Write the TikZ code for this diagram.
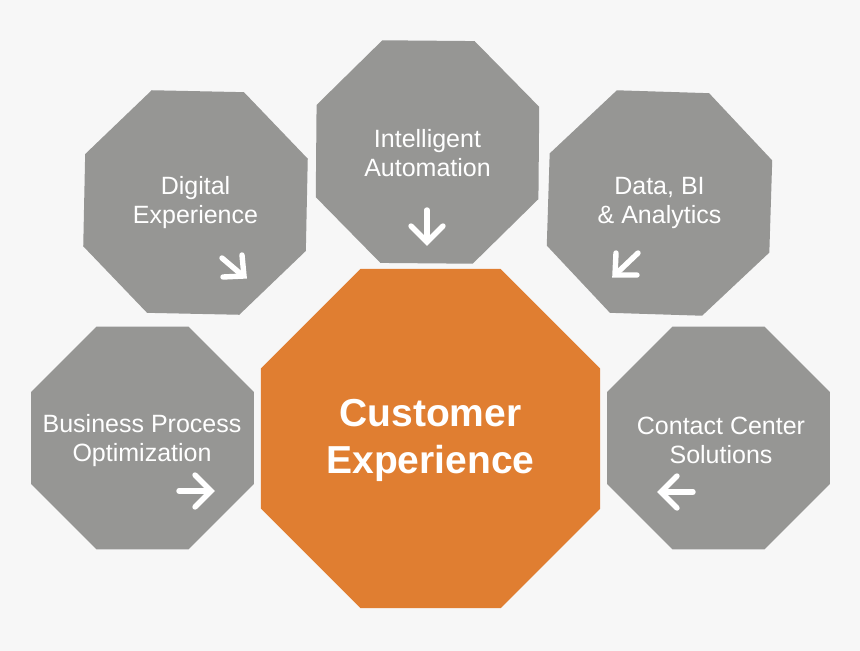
\documentclass[tikz,border=0pt]{standalone}
\usepackage{fontspec}
\setmainfont{Liberation Sans}
\usetikzlibrary{shapes.geometric}
\definecolor{bg}{RGB}{247,247,247}
\definecolor{octgray}{RGB}{150,150,148}
\definecolor{octorange}{RGB}{224,126,49}
\tikzset{
  oct/.style={regular polygon, regular polygon sides=8, fill=octgray, draw=none,
    inner sep=0pt, outer sep=0pt, minimum size=241pt},
  bigoct/.style={oct, fill=octorange, minimum size=367pt},
  octtext/.style={text=white, align=center, inner sep=0pt,
    font=\fontsize{25}{29}\selectfont},
  bigtext/.style={octtext, font=\fontsize{39}{47}\selectfont\bfseries},
  wharrow/.style={draw=white, line width=5.4pt, line cap=round, line join=miter}
}
\begin{document}
\begin{tikzpicture}[x=1pt,y=-1pt]
\fill[bg] (0,0) rectangle (860,651);
\useasboundingbox (0,0) rectangle (860,651);
% octagons
\node[oct, shape border rotate=-1.2] (dig) at (195.5,202.5) {};
\node[oct, shape border rotate=-0.5] (ia) at (427.5,152) {};
\node[oct, shape border rotate=-1.8] (data) at (659.5,203) {};
\node[oct] (bpo) at (142.5,438) {};
\node[oct] (ccs) at (718.5,438) {};
\node[bigoct] (cx) at (430.5,438.5) {};
% texts
\node[octtext] (digt) at (195.5,203) {Digital\\Experience};
\node[octtext] (iat) at (427.5,153.5) {Intelligent\\Automation};
\node[octtext] (datat) at (659.5,203) {Data, BI\\\& Analytics};
\node[octtext] (bpot) at (142,441) {Business Process\\Optimization};
\node[octtext] (ccst) at (721,440) {Contact Center\\Solutions};
\node[bigtext] (cxt) at (430.5,440.5) {Customer\\Experience};
% arrows (icons)
\draw[wharrow] (222,258) -- (242,275);
\draw[wharrow] (242,255) -- (244,276) -- (223,277);
\draw[wharrow] (427,210) -- (427,241);
\draw[wharrow] (411,226) -- (427,242) -- (443,226);
\draw[wharrow] (638,253) -- (617,273);
\draw[wharrow] (616,253) -- (615,275) -- (637,275);
\draw[wharrow] (179,491) -- (209,491);
\draw[wharrow] (195,475) -- (211,491) -- (195,507);
\draw[wharrow] (693,492) -- (664,492);
\draw[wharrow] (677,476) -- (661,492) -- (677,508);
\end{tikzpicture}
\end{document}
